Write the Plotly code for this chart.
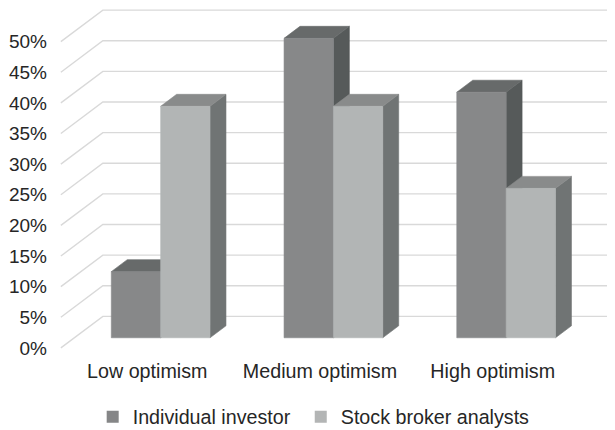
import plotly.graph_objects as go

categories = ["Low optimism", "Medium optimism", "High optimism"]
series_names = ["Individual investor", "Stock broker analysts"]
individual = [10.8, 48.9, 40.1]
analysts = [37.8, 37.8, 24.4]
y_ticks = [0, 5, 10, 15, 20, 25, 30, 35, 40, 45, 50]
y_tick_labels = [f"{v}%" for v in y_ticks]

# styling / projection (oblique 3D look)
DX = 0.243      # full depth shift along x (category units)
DY = 5.15       # full depth shift along y (value units)
T0, T1 = 0.32, 0.70   # bar depth position (fraction of floor depth)
BW = 1 / 3.5    # bar width (gap width 150%)
X_MIN, X_MAX = -0.505, 2.708
Y_MIN, Y_MAX = -1, 55.5

face_colors = [
    dict(front="#878889", top="#676a6a", side="#565a5a"),
    dict(front="#b2b5b5", top="#898b8b", side="#707474"),
]
legend_colors = ["#858687", "#b3b5b5"]
legend_pad = ["\u00a0", ""]   # invisible spacing between legend entries
FONT = "Liberation Sans, Arial, sans-serif"
FS = 19.7

fig = go.Figure()

# gridlines: side wall diagonal + back wall horizontal
gx, gy = [], []
for v in y_ticks:
    gx += [-0.5, -0.5 + DX, X_MAX, None]
    gy += [v, v + DY, v + DY, None]
fig.add_trace(go.Scatter(x=gx, y=gy, mode="lines", line=dict(color="#d9d9d9", width=1.4),
                         hoverinfo="skip", showlegend=False, cliponaxis=False))


def poly(xs, ys, color):
    fig.add_trace(go.Scatter(x=xs + [xs[0]], y=ys + [ys[0]], mode="lines", fill="toself",
                             fillcolor=color, line=dict(color=color, width=0.6),
                             hoverinfo="skip", showlegend=False))


all_series = [individual, analysts]
ox0, oy0 = T0 * DX, T0 * DY
ox1, oy1 = T1 * DX, T1 * DY
for i, cat in enumerate(categories):
    for s, vals in enumerate(all_series):
        v = vals[i]
        c = face_colors[s]
        xl = i - BW + s * BW
        xr = xl + BW
        # side face
        poly([xr + ox0, xr + ox1, xr + ox1, xr + ox0],
             [oy0, oy1, v + oy1, v + oy0], c["side"])
        # top face
        poly([xl + ox0, xr + ox0, xr + ox1, xl + ox1],
             [v + oy0, v + oy0, v + oy1, v + oy1], c["top"])
        # front face
        poly([xl + ox0, xr + ox0, xr + ox0, xl + ox0],
             [oy0, oy0, v + oy0, v + oy0], c["front"])

# legend entries
for s, name in enumerate(series_names):
    fig.add_trace(go.Scatter(x=[None], y=[None], mode="markers", name=name + legend_pad[s],
                             marker=dict(symbol="square", size=12, color=legend_colors[s])))

fig.update_layout(
    width=615, height=430,
    margin=dict(l=52, r=8, t=0, b=84, autoexpand=False),
    paper_bgcolor="white", plot_bgcolor="white",
    font=dict(family=FONT, size=FS, color="#262626"),
    showlegend=True,
    legend=dict(orientation="h", x=0.0589, xanchor="left", y=-0.182, yanchor="middle",
                font=dict(size=FS), itemwidth=30, bgcolor="rgba(0,0,0,0)"),
    hovermode=False,
)
fig.update_xaxes(range=[X_MIN, X_MAX], tickvals=[0, 1, 2], ticktext=categories,
                 showgrid=False, zeroline=False, showline=False, ticks="", automargin=False,
                 ticklabelstandoff=3, fixedrange=True)
fig.update_yaxes(range=[Y_MIN, Y_MAX], tickvals=y_ticks, ticktext=y_tick_labels,
                 tickfont=dict(size=19), showgrid=False, zeroline=False, showline=False,
                 ticks="", automargin=False, ticklabelstandoff=12, fixedrange=True)

fig.write_html("out.html")
